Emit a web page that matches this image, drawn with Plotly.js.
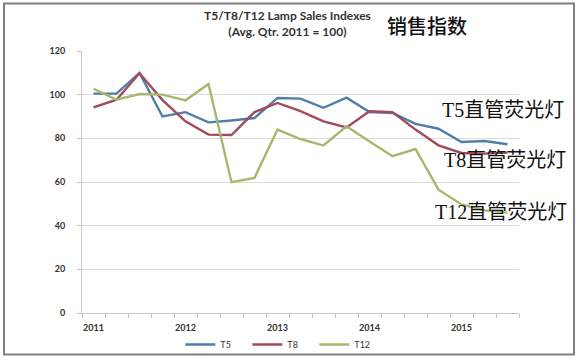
<!DOCTYPE html>
<html>
<head>
<meta charset="utf-8">
<script src="https://cdn.plot.ly/plotly-3.0.1.min.js"></script>
<style>html,body{margin:0;padding:0;background:#fff;}#chart{width:581px;height:361px;}</style>
</head>
<body>
<div id="chart"></div>
<script>
// Quarters 2011Q1 .. 2015Q3
var quarters = ["2011Q1","2011Q2","2011Q3","2011Q4","2012Q1","2012Q2","2012Q3","2012Q4",
  "2013Q1","2013Q2","2013Q3","2013Q4","2014Q1","2014Q2","2014Q3","2014Q4","2015Q1","2015Q2","2015Q3"];
var yearLabels = ["2011","2012","2013","2014","2015"];
var t5  = [100.5,100.5,110,90,92,87.3,88.2,89.3,98.5,98.2,94,98.6,92,91.6,86.6,84.4,78.3,78.8,77.3];
var t8  = [94.2,97.7,109.8,97.5,87.8,81.7,81.5,92,96.2,92.5,87.8,85,92.4,92,84,76.8,73.3,73,73.5];
var t12 = [102.7,97.7,100.3,100,97.4,104.9,59.9,61.9,84,79.7,76.7,85.5,78.6,71.8,75.1,56.5,49.7,47,46];

var xIdx = quarters.map(function(q,i){return i;});
var yearPos = yearLabels.map(function(y){return quarters.indexOf(y+"Q1");});
var bounds = []; for (var i=0;i<=quarters.length;i++) bounds.push(i-0.5);

function px2x(p){return (p-82)/437;}
function px2y(p){return (313.5-p)/262;}

var traces = [
  {x:xIdx, y:t5, name:"T5", mode:"lines", line:{color:"#4f7eab", width:2.4}},
  {x:xIdx, y:t8, name:"T8", mode:"lines", line:{color:"#a34a5a", width:2.4}},
  {x:xIdx, y:t12, name:"T12", mode:"lines", line:{color:"#a6b86c", width:2.4}}
];

var cjk = '"Liberation Serif", "Noto Sans CJK SC", serif';
var layout = {
  width:581, height:361,
  margin:{l:82, r:62, t:51, b:48, autoexpand:false},
  paper_bgcolor:"#fff", plot_bgcolor:"#fff",
  font:{family:"Lato, 'Open Sans', sans-serif", color:"#333"},
  xaxis:{range:[-0.5,18.5], tickmode:"array", tickvals:yearPos, ticktext:yearLabels,
    ticks:"", showgrid:false, zeroline:false, showline:true, linecolor:"#c8c8c8", linewidth:1,
    tickfont:{size:9, color:"#333", family:"Lato, sans-serif", weight:"bold"}, ticklabelstandoff:6,
    minor:{tickmode:"array", tickvals:bounds, ticks:"outside", ticklen:4, tickcolor:"#c8c8c8", showgrid:false},
    fixedrange:true, automargin:false},
  yaxis:{range:[0,120], tickmode:"array", tickvals:[0,20,40,60,80,100,120],
    showgrid:true, gridcolor:"#dcdcdc", gridwidth:1, zeroline:false,
    showline:true, linecolor:"#c8c8c8", linewidth:1,
    ticks:"outside", ticklen:4, tickcolor:"#c8c8c8",
    tickfont:{size:9, color:"#333", family:"Lato, sans-serif", weight:"bold"}, ticklabelstandoff:10,
    fixedrange:true, automargin:false},
  showlegend:true,
  legend:{orientation:"h", x:0.455, xanchor:"center", y:px2y(345), yanchor:"middle",
    font:{size:9, color:"#333"}, itemwidth:30, entrywidth:22, entrywidthmode:"pixels",
    tracegroupgap:0, bgcolor:"rgba(0,0,0,0)"},
  shapes:[
    {type:"rect", xref:"paper", yref:"paper", x0:px2x(4), x1:px2x(574), y0:px2y(355), y1:px2y(4),
     line:{color:"#808080", width:2}, fillcolor:"rgba(0,0,0,0)"}
  ],
  annotations:[
    {text:"<b>T5/T8/T12 Lamp Sales Indexes<br>(Avg. Qtr. 2011 = 100)</b>", xref:"paper", yref:"paper",
     x:px2x(287), y:px2y(24), xanchor:"center", yanchor:"middle", align:"center", showarrow:false,
     font:{size:12, family:"Lato, sans-serif", color:"#333"}},
    {text:"销售指数", xref:"paper", yref:"paper", x:px2x(385), y:px2y(26), xanchor:"left", yanchor:"middle",
     showarrow:false, font:{size:20, family:"'Noto Sans CJK SC', sans-serif", color:"#111", weight:500}},
    {text:"T5直管荧光灯", xref:"paper", yref:"paper", x:px2x(440), y:px2y(110), xanchor:"left", yanchor:"middle",
     showarrow:false, font:{size:20, family:cjk, color:"#111"}},
    {text:"T8直管荧光灯", xref:"paper", yref:"paper", x:px2x(442), y:px2y(160), xanchor:"left", yanchor:"middle",
     showarrow:false, font:{size:20, family:cjk, color:"#111"}},
    {text:"T12直管荧光灯", xref:"paper", yref:"paper", x:px2x(433), y:px2y(213), xanchor:"left", yanchor:"middle",
     showarrow:false, font:{size:20, family:cjk, color:"#111"}}
  ]
};
Plotly.newPlot("chart", traces, layout, {displayModeBar:false, staticPlot:true});
</script>
</body>
</html>
